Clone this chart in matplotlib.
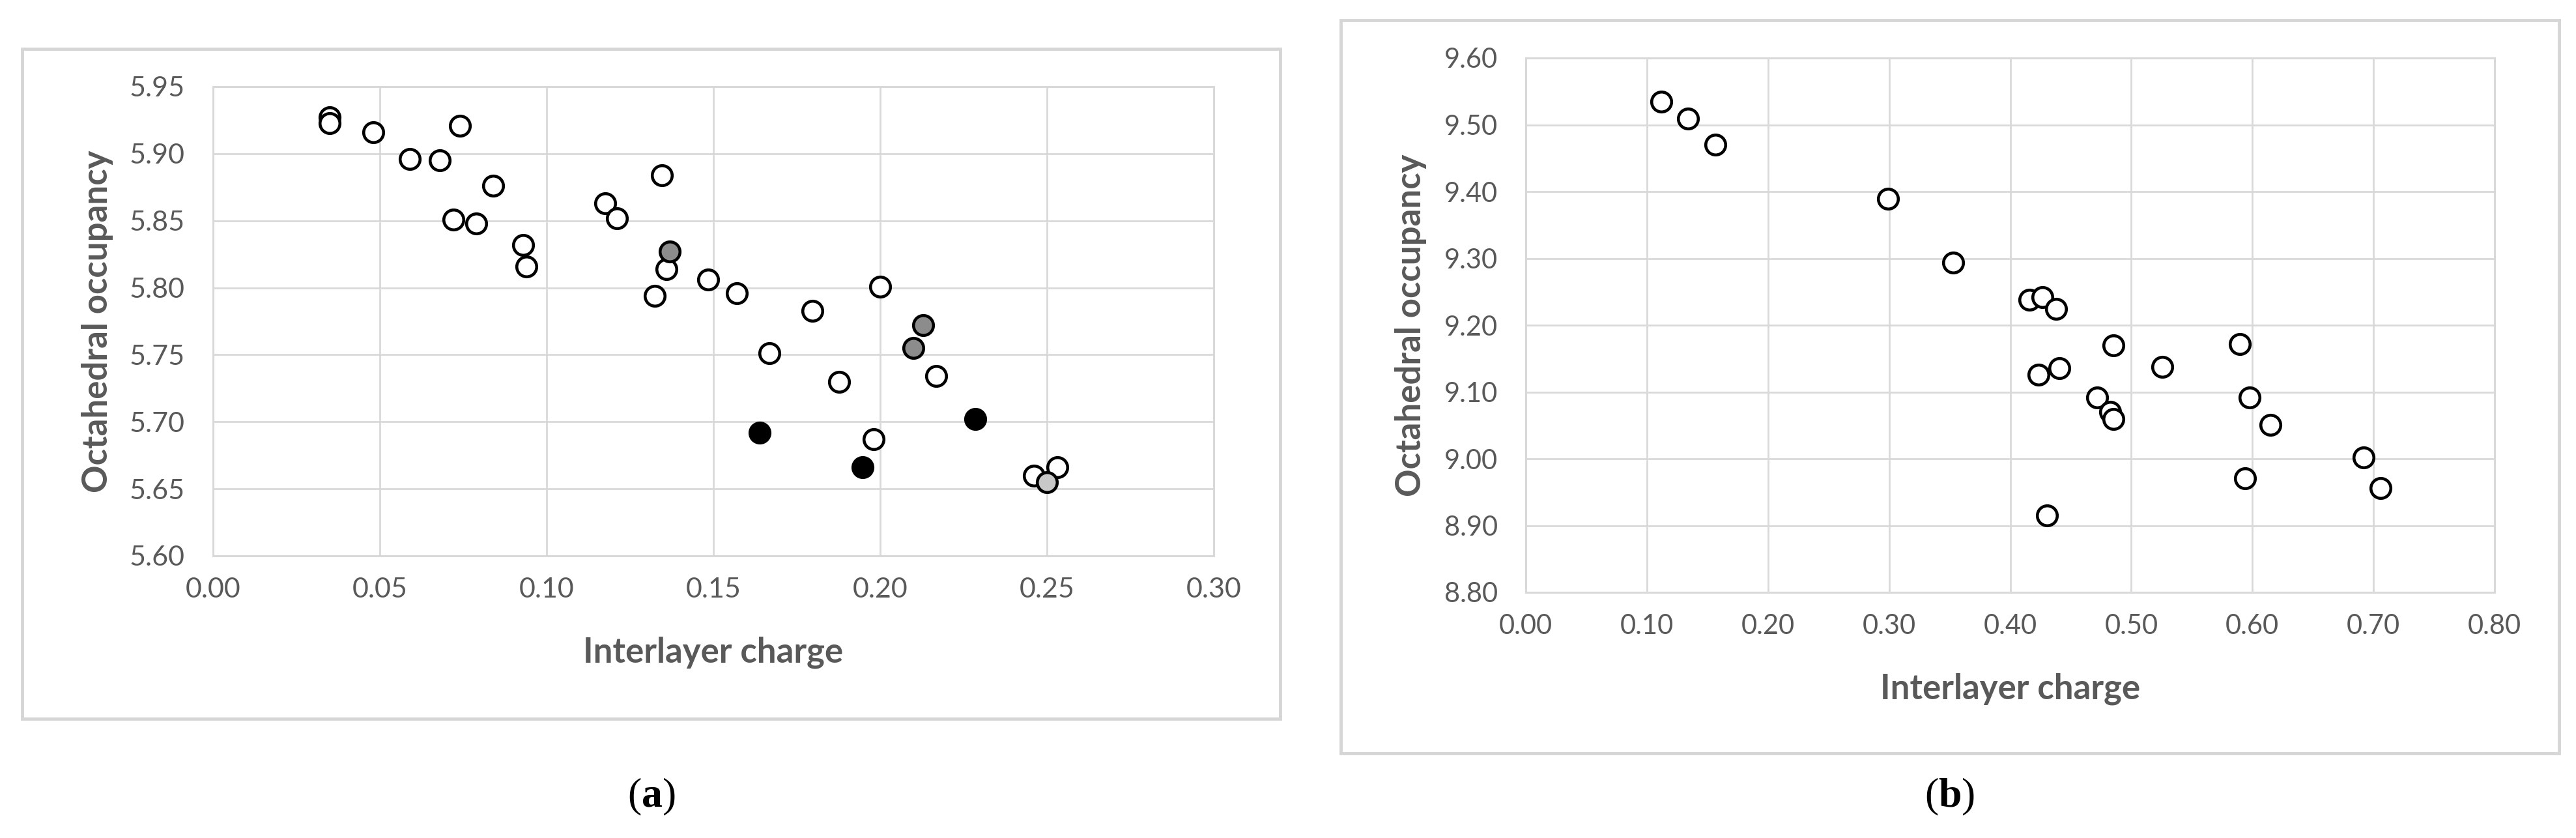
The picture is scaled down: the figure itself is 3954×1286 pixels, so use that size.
import matplotlib
matplotlib.use('Agg')
import matplotlib.pyplot as plt
from matplotlib.patches import Rectangle

# Panel (a): interlayer charge vs octahedral occupancy, three sample groups
a_open_x = [0.035, 0.035, 0.048, 0.074, 0.059, 0.068, 0.084, 0.072, 0.079, 0.093,
            0.094, 0.1175, 0.121, 0.1345, 0.136, 0.1325, 0.1485, 0.157, 0.1796, 0.200,
            0.1667, 0.2167, 0.1877, 0.198, 0.246, 0.2532]
a_open_y = [5.927, 5.923, 5.916, 5.921, 5.896, 5.895, 5.876, 5.851, 5.848, 5.832,
            5.816, 5.863, 5.852, 5.884, 5.814, 5.794, 5.806, 5.796, 5.783, 5.801,
            5.751, 5.734, 5.730, 5.687, 5.660, 5.666]
a_grey_x = [0.137, 0.2128, 0.2099]
a_grey_y = [5.827, 5.772, 5.755]
a_light_x = [0.250]
a_light_y = [5.655]
a_black_x = [0.2286, 0.1638, 0.1948]
a_black_y = [5.702, 5.692, 5.666]

# Panel (b)
b_x = [0.1117, 0.134, 0.1564, 0.2993, 0.3527, 0.4157, 0.4265, 0.438, 0.4854, 0.4232,
       0.4408, 0.5254, 0.5897, 0.4719, 0.4827, 0.4854, 0.5978, 0.6148, 0.692, 0.5938,
       0.706, 0.4306]
b_y = [9.535, 9.509, 9.470, 9.389, 9.294, 9.238, 9.242, 9.224, 9.170, 9.126,
       9.136, 9.138, 9.172, 9.092, 9.070, 9.060, 9.092, 9.051, 9.002, 8.971,
       8.956, 8.915]

a_xticks = [0.00, 0.05, 0.10, 0.15, 0.20, 0.25, 0.30]
a_yticks = [5.60, 5.65, 5.70, 5.75, 5.80, 5.85, 5.90, 5.95]
b_xticks = [0.00, 0.10, 0.20, 0.30, 0.40, 0.50, 0.60, 0.70, 0.80]
b_yticks = [8.80, 8.90, 9.00, 9.10, 9.20, 9.30, 9.40, 9.50, 9.60]

W, H = 3954, 1286
GRID = '#d9d9d9'
TXT = '#595959'

plt.rcParams['mathtext.fontset'] = 'custom'
plt.rcParams['mathtext.rm'] = 'Liberation Serif'
plt.rcParams['mathtext.bf'] = 'Liberation Serif:bold'

fig = plt.figure(figsize=(W / 100, H / 100), dpi=100)


def px_axes(x0, y0, x1, y1):
    # pixel box (top-left origin) -> figure fraction axes
    return fig.add_axes([x0 / W, 1 - y1 / H, (x1 - x0) / W, (y1 - y0) / H])


def box(x0, y0, x1, y1):
    fig.patches.append(Rectangle((x0 / W, 1 - y1 / H), (x1 - x0) / W, (y1 - y0) / H,
                                 transform=fig.transFigure, fill=False,
                                 edgecolor='#d6d6d6', lw=3.5, zorder=0))


def style(ax, xticks, yticks, fs, wpx, hpx):
    ax.set_xlim(xticks[0], xticks[-1])
    ax.set_ylim(yticks[0], yticks[-1])
    ax.set_xticks(xticks)
    ax.set_yticks(yticks)
    ax.set_xticklabels(['%.2f' % t for t in xticks])
    ax.set_yticklabels(['%.2f' % t for t in yticks])
    ax.grid(True, color=GRID, lw=2)
    ax.set_axisbelow(True)
    for s in ax.spines.values():
        s.set_color(GRID)
        s.set_linewidth(2.2)
    ax.tick_params(length=0, labelsize=fs, labelcolor=TXT, pad=0)
    for lab in ax.get_xticklabels() + ax.get_yticklabels():
        lab.set_family('Lato')
    ax.tick_params(axis='x', pad=24)
    ax.tick_params(axis='y', pad=31)
    ax.set_xlabel('Interlayer charge', fontsize=38, fontweight='bold', color=TXT,
                  family='Lato', va='center')
    ax.xaxis.set_label_coords(0.5, -148 / hpx)
    ax.set_ylabel('Octahedral occupancy', fontsize=38, fontweight='bold', color=TXT,
                  family='Lato', va='center')
    ax.yaxis.set_label_coords(-177 / wpx, 0.5)


mk = dict(marker='o', ls='none', ms=22, mew=3.3, mec='black')

# (a)
box(34, 75, 1965, 1103)
ax1 = px_axes(327, 133, 1863, 853)
ax1.plot(a_open_x, a_open_y, mfc='white', **mk)
ax1.plot(a_light_x, a_light_y, mfc='#c8c8c8', **mk)
ax1.plot(a_grey_x, a_grey_y, mfc='#8c8c8c', **mk)
ax1.plot(a_black_x, a_black_y, mfc='black', **mk)
style(ax1, a_xticks, a_yticks, 31, 1536, 720)
fig.text(1000 / W, 1 - 1223 / H, r'($\mathbf{a}$)', fontsize=46,
         family='Liberation Serif', ha='center', va='center')

# (b)
box(2058, 31, 3928, 1156)
ax2 = px_axes(2342, 89, 3829, 909)
ax2.plot(b_x, b_y, mfc='white', **mk)
style(ax2, b_xticks, b_yticks, 30, 1487, 820)
fig.text(2993 / W, 1 - 1223 / H, r'($\mathbf{b}$)', fontsize=46,
         family='Liberation Serif', ha='center', va='center')

fig.savefig('out.png', dpi=100, facecolor='white')
